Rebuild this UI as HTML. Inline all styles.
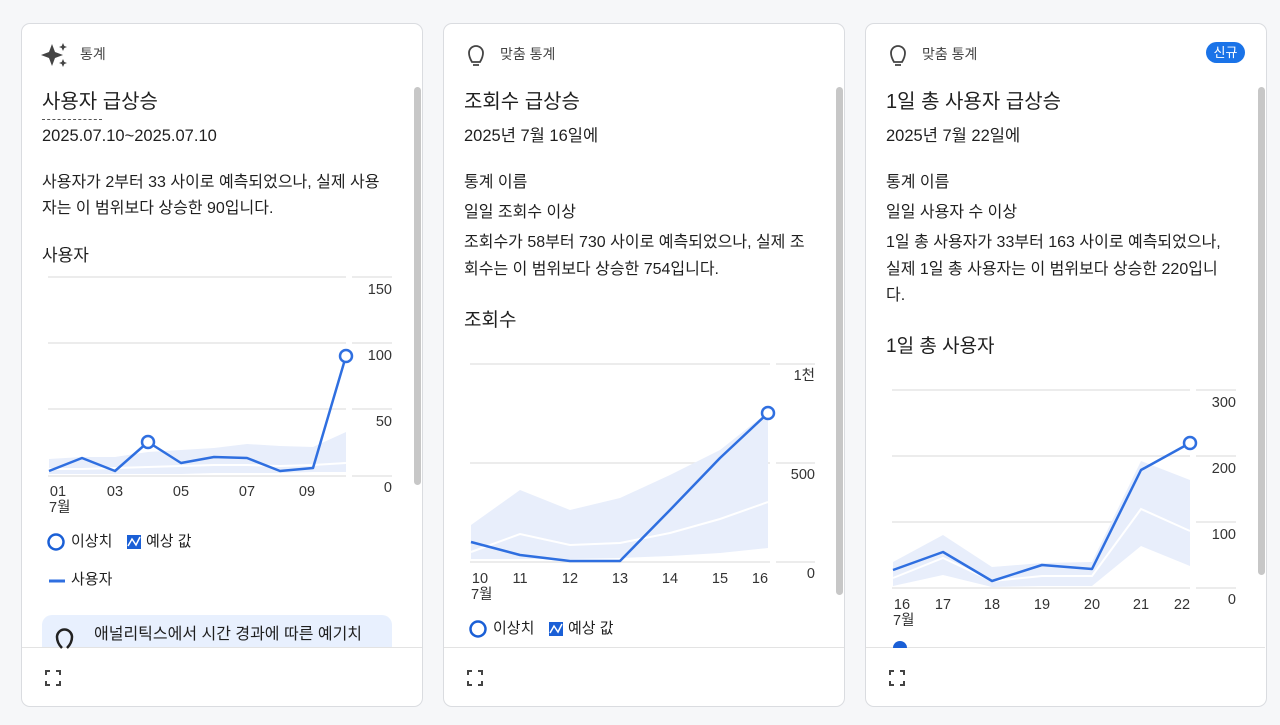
<!DOCTYPE html>
<html><head><meta charset="utf-8"><style>
*{margin:0;padding:0;box-sizing:border-box}
body{width:1280px;height:725px;background:#f6f7f9;position:relative;overflow:hidden;font-family:"Liberation Sans","Noto Sans CJK KR",sans-serif;color:#1f1f1f}
.card{position:absolute;top:23px;width:402px;height:684px;background:#fff;border:1px solid #dadce0;border-radius:9px}
.t{position:absolute;white-space:nowrap;line-height:1}
.b{font-size:16px}
.sb{position:absolute;width:7px;background:#c7c7c7;border-radius:4px}
</style></head><body>
<div class="card" style="left:21px"></div>
<div class="card" style="left:443px"></div>
<div class="card" style="left:865px"></div>
<div class="sb" style="left:414px;top:87px;height:398px"></div>
<div class="sb" style="left:836px;top:87px;height:508px"></div>
<div class="sb" style="left:1258px;top:87px;height:488px"></div>
<div style="position:absolute;left:42px;top:615px;width:350px;height:33px;background:#e8f0fe;border-radius:10px 10px 0 0"></div>
<div style="position:absolute;left:22px;top:647px;width:400px;border-top:1px solid #e3e3e3"></div>
<div style="position:absolute;left:444px;top:647px;width:400px;border-top:1px solid #e3e3e3"></div>
<div style="position:absolute;left:866px;top:647px;width:399px;border-top:1px solid #e3e3e3"></div>

<!-- card1 text -->
<div class="t" style="left:80px;top:47px;font-size:14px;color:#444">통계</div>
<div class="t" style="left:42px;top:92px;font-size:20px">사용자 급상승</div>
<div style="position:absolute;left:42px;top:119px;width:60px;border-top:1px dashed #555"></div>
<div class="t" style="left:42px;top:128px;font-size:16.5px">2025.07.10~2025.07.10</div>
<div class="t b" style="left:42px;top:175px">사용자가 2부터 33 사이로 예측되었으나, 실제 사용</div>
<div class="t b" style="left:42px;top:201px">자는 이 범위보다 상승한 90입니다.</div>
<div class="t" style="left:42px;top:247px;font-size:17px">사용자</div>
<div class="t" style="left:71px;top:534px;font-size:15px">이상치</div>
<div class="t" style="left:146px;top:534px;font-size:15px">예상 값</div>
<div class="t" style="left:71px;top:572px;font-size:15px">사용자</div>
<div class="t" style="left:94px;top:627px;font-size:16px">애널리틱스에서 시간 경과에 따른 예기치</div>

<!-- card2 text -->
<div class="t" style="left:500px;top:47px;font-size:14px;color:#444">맞춤 통계</div>
<div class="t" style="left:464px;top:92px;font-size:20px">조회수 급상승</div>
<div class="t" style="left:464px;top:128px;font-size:16.5px">2025년 7월 16일에</div>
<div class="t b" style="left:464px;top:175px">통계 이름</div>
<div class="t b" style="left:464px;top:205px">일일 조회수 이상</div>
<div class="t b" style="left:464px;top:235px">조회수가 58부터 730 사이로 예측되었으나, 실제 조</div>
<div class="t b" style="left:464px;top:262px">회수는 이 범위보다 상승한 754입니다.</div>
<div class="t" style="left:464px;top:311px;font-size:19px">조회수</div>
<div class="t" style="left:493px;top:621px;font-size:15px">이상치</div>
<div class="t" style="left:568px;top:621px;font-size:15px">예상 값</div>

<!-- card3 text -->
<div class="t" style="left:922px;top:47px;font-size:14px;color:#444">맞춤 통계</div>
<div style="position:absolute;left:1206px;top:42px;width:39px;height:21px;background:#1a73e8;border-radius:11px;color:#fff;font-size:13px;text-align:center;line-height:21px">신규</div>
<div class="t" style="left:886px;top:92px;font-size:20px">1일 총 사용자 급상승</div>
<div class="t" style="left:886px;top:128px;font-size:16.5px">2025년 7월 22일에</div>
<div class="t b" style="left:886px;top:175px">통계 이름</div>
<div class="t b" style="left:886px;top:205px">일일 사용자 수 이상</div>
<div class="t b" style="left:886px;top:235px">1일 총 사용자가 33부터 163 사이로 예측되었으나,</div>
<div class="t b" style="left:886px;top:262px">실제 1일 총 사용자는 이 범위보다 상승한 220입니</div>
<div class="t b" style="left:886px;top:288px">다.</div>
<div class="t" style="left:886px;top:337px;font-size:19px">1일 총 사용자</div>

<svg width="1280" height="725" style="position:absolute;left:0;top:0" font-family="Liberation Sans, Noto Sans CJK KR, sans-serif" font-size="14.5" fill="#333">
<g fill="#444">
<path d="M52 44 L55 52 L63 55 L55 58 L52 66 L49 58 L41 55 L49 52Z"/>
<path d="M63 43 L64.3 46 L67 47 L64.3 48 L63 51 L61.7 48 L59 47 L61.7 46Z"/>
<path d="M63 59 L64.3 62 L67 63 L64.3 64 L63 67 L61.7 64 L59 63 L61.7 62Z"/>
</g>
<g fill="none" stroke="#444" stroke-width="1.8">
<path d="M472 62 Q469 57 469 53 A7 7 0 0 1 483 53 Q483 57 480 62 Z M473 65 H479"/>
<path d="M894 62 Q891 57 891 53 A7 7 0 0 1 905 53 Q905 57 902 62 Z M895 65 H901"/>
</g>
<path d="M62 648 Q57 643 57 637 A7.5 7.5 0 0 1 72 637 Q72 643 67 648" fill="none" stroke="#222" stroke-width="2.5"/>
<g fill="none" stroke="#444" stroke-width="2">
<path d="M46 675 V671 H50 M56 671 H60 V675 M60 681 V685 H56 M50 685 H46 V681"/>
<path d="M468 675 V671 H472 M478 671 H482 V675 M482 681 V685 H478 M472 685 H468 V681"/>
<path d="M890 675 V671 H894 M900 671 H904 V675 M904 681 V685 H900 M894 685 H890 V681"/>
</g>

<!-- chart 1 -->
<g stroke="#e6e6e6" stroke-width="1.5">
<line x1="48" y1="277" x2="346" y2="277"/><line x1="352" y1="277" x2="392" y2="277"/>
<line x1="48" y1="343" x2="346" y2="343"/><line x1="352" y1="343" x2="392" y2="343"/>
<line x1="48" y1="409" x2="346" y2="409"/><line x1="352" y1="409" x2="392" y2="409"/>
<line x1="48" y1="476" x2="346" y2="476"/><line x1="352" y1="476" x2="392" y2="476"/>
</g>
<polygon fill="#e8eefb" points="49,459 82,457 115,457 148,452 181,450 214,448 247,444 280,446 313,447 346,432 346,472 313,472 280,473 247,473 214,473 181,474 148,474 115,474 82,474 49,474"/>
<polyline fill="none" stroke="#fff" stroke-width="2" points="49,469 82,469 115,468 148,467 181,466 214,465 247,465 280,466 313,465 346,463"/>
<polyline fill="none" stroke="#2f6fe0" stroke-width="2.5" stroke-linejoin="round" points="49,471 82,458 115,471 148,442 181,463 214,457 247,458 280,471 313,468 346,356"/>
<circle cx="148" cy="442" r="6" fill="#fff" stroke="#2f6fe0" stroke-width="2.5"/>
<circle cx="346" cy="356" r="6" fill="#fff" stroke="#2f6fe0" stroke-width="2.5"/>
<g text-anchor="end"><text x="392" y="294">150</text><text x="392" y="360">100</text><text x="392" y="426">50</text><text x="392" y="492">0</text></g>
<g text-anchor="middle"><text x="58" y="496">01</text><text x="115" y="496">03</text><text x="181" y="496">05</text><text x="247" y="496">07</text><text x="307" y="496">09</text></g>
<text x="49" y="512">7월</text>
<circle cx="56" cy="542" r="7.5" fill="#fff" stroke="#1a5fd6" stroke-width="2.5"/>
<rect x="127" y="535" width="14" height="14" fill="#1a5fd6"/><polyline points="128,546 132,539 136,545 140,537" fill="none" stroke="#fff" stroke-width="1.5"/>
<line x1="49" y1="581" x2="65" y2="581" stroke="#2f6fe0" stroke-width="3"/>

<!-- chart 2 -->
<g stroke="#e6e6e6" stroke-width="1.5">
<line x1="470" y1="364" x2="770" y2="364"/><line x1="776" y1="364" x2="815" y2="364"/>
<line x1="470" y1="463" x2="770" y2="463"/><line x1="776" y1="463" x2="815" y2="463"/>
<line x1="470" y1="562" x2="770" y2="562"/><line x1="776" y1="562" x2="815" y2="562"/>
</g>
<polygon fill="#e8eefb" points="471,525 520,490 570,510 620,498 670,475 720,450 768,412 768,548 720,553 670,556 620,558 570,559 520,559 471,559"/>
<polyline fill="none" stroke="#fff" stroke-width="2" points="471,552 520,534 570,545 620,543 670,533 720,519 768,502"/>
<polyline fill="none" stroke="#2f6fe0" stroke-width="2.5" stroke-linejoin="round" points="471,542 520,555 570,561 620,561 670,510 720,458 768,413"/>
<circle cx="768" cy="413" r="6" fill="#fff" stroke="#2f6fe0" stroke-width="2.5"/>
<g text-anchor="end"><text x="815" y="380">1천</text><text x="815" y="479">500</text><text x="815" y="578">0</text></g>
<g text-anchor="middle"><text x="480" y="583">10</text><text x="520" y="583">11</text><text x="570" y="583">12</text><text x="620" y="583">13</text><text x="670" y="583">14</text><text x="720" y="583">15</text><text x="760" y="583">16</text></g>
<text x="471" y="599">7월</text>
<circle cx="478" cy="629" r="7.5" fill="#fff" stroke="#1a5fd6" stroke-width="2.5"/>
<rect x="549" y="622" width="14" height="14" fill="#1a5fd6"/><polyline points="550,633 554,626 558,632 562,624" fill="none" stroke="#fff" stroke-width="1.5"/>

<!-- chart 3 -->
<g stroke="#e6e6e6" stroke-width="1.5">
<line x1="892" y1="390" x2="1190" y2="390"/><line x1="1196" y1="390" x2="1236" y2="390"/>
<line x1="892" y1="456" x2="1190" y2="456"/><line x1="1196" y1="456" x2="1236" y2="456"/>
<line x1="892" y1="522" x2="1190" y2="522"/><line x1="1196" y1="522" x2="1236" y2="522"/>
<line x1="892" y1="588" x2="1190" y2="588"/><line x1="1196" y1="588" x2="1236" y2="588"/>
</g>
<polygon fill="#e8eefb" points="893,562 943,535 992,567 1042,563 1092,562 1141,461 1190,480 1190,566 1141,546 1092,586 1042,586 992,587 943,575 893,586"/>
<polyline fill="none" stroke="#fff" stroke-width="2" points="893,578 943,558 992,581 1042,576 1092,576 1141,509 1190,531"/>
<polyline fill="none" stroke="#2f6fe0" stroke-width="2.5" stroke-linejoin="round" points="893,570 943,552 992,581 1042,565 1092,569 1141,470 1190,443"/>
<circle cx="1190" cy="443" r="6" fill="#fff" stroke="#2f6fe0" stroke-width="2.5"/>
<g text-anchor="end"><text x="1236" y="407">300</text><text x="1236" y="473">200</text><text x="1236" y="539">100</text><text x="1236" y="604">0</text></g>
<g text-anchor="middle"><text x="902" y="609">16</text><text x="943" y="609">17</text><text x="992" y="609">18</text><text x="1042" y="609">19</text><text x="1092" y="609">20</text><text x="1141" y="609">21</text><text x="1182" y="609">22</text></g>
<text x="893" y="625">7월</text>
<path d="M893 648 A6 6 0 0 1 907 648" fill="#1a5fd6"/>
</svg>
</body></html>
